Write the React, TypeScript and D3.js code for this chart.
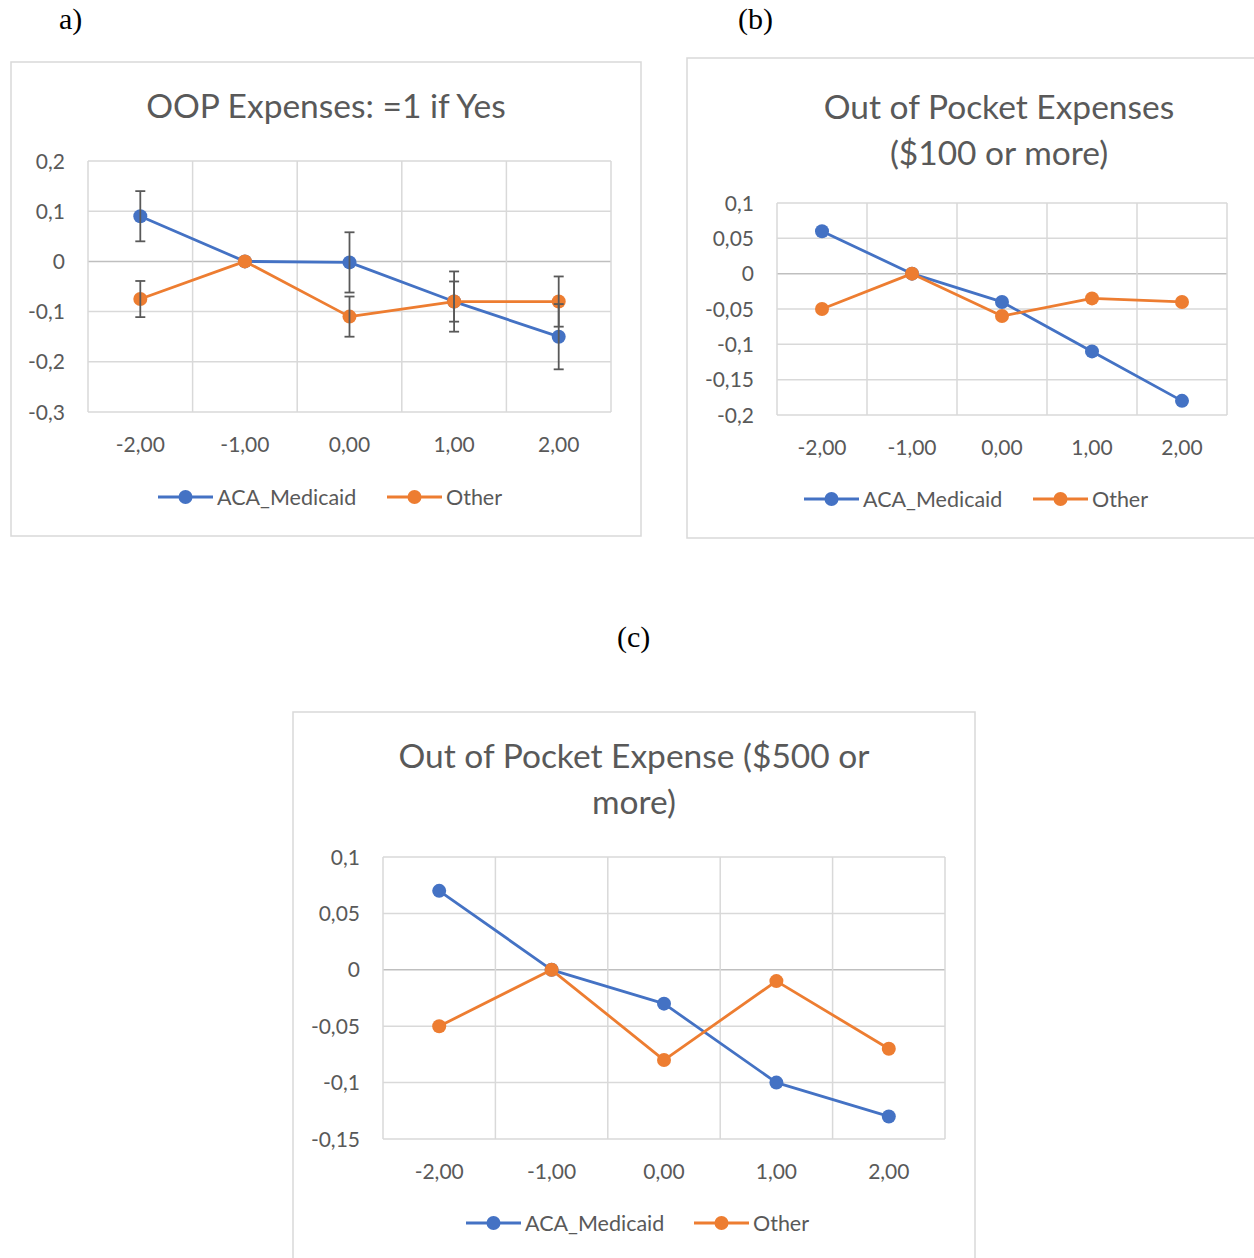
import React from "react";
import * as d3 from "d3";

const categories = ["-2,00", "-1,00", "0,00", "1,00", "2,00"];
const seriesNames = ["ACA_Medicaid", "Other"];

// Panel a
const aMedicaid = [0.09, 0, -0.002, -0.08, -0.15];
const aOther = [-0.075, 0, -0.11, -0.08, -0.08];
const aMedicaidErr = [0.05, 0, 0.06, 0.06, 0.065];
const aOtherErr = [0.036, 0, 0.04, 0.04, 0.05];
const aTicks = [0.2, 0.1, 0, -0.1, -0.2, -0.3];

// Panel b
const bMedicaid = [0.06, 0, -0.04, -0.11, -0.18];
const bOther = [-0.05, 0, -0.06, -0.035, -0.04];
const bTicks = [0.1, 0.05, 0, -0.05, -0.1, -0.15, -0.2];

// Panel c
const cMedicaid = [0.07, 0, -0.03, -0.1, -0.13];
const cOther = [-0.05, 0, -0.08, -0.01, -0.07];
const cTicks = [0.1, 0.05, 0, -0.05, -0.1, -0.15];

const BLUE = "#4472C4";
const ORANGE = "#ED7D31";
const TEXT = "#595959";
const GRID = "#D9D9D9";
const FONT = "Lato, 'Open Sans', sans-serif";
const SERIF = "'Liberation Serif', 'Times New Roman', serif";

const fmt = (v: number) => String(v).replace(".", ",");

type PanelProps = {
  box: [number, number, number, number];
  plot: [number, number, number, number];
  title: string[];
  titleX: number;
  titleY: number;
  ticks: number[];
  s1: number[];
  s2: number[];
  e1?: number[];
  e2?: number[];
  legendY: number;
  legendX1: number;
  legendX2: number;
};

function Panel(p: PanelProps) {
  const [x0, y0, x1, y1] = p.plot;
  const x = d3.scaleBand<string>().domain(categories).range([x0, x1]);
  const y = d3
    .scaleLinear()
    .domain([d3.min(p.ticks)!, d3.max(p.ticks)!])
    .range([y1, y0]);
  const cx = (c: string) => x(c)! + x.bandwidth() / 2;
  const line = d3
    .line<number>()
    .x((_, i) => cx(categories[i]))
    .y((d) => y(d));
  const edges = categories.map((c) => x(c)!).concat([x1]);
  const series = [
    { vals: p.s1, err: p.e1, color: BLUE },
    { vals: p.s2, err: p.e2, color: ORANGE },
  ];
  const [bx0, by0, bx1, by1] = p.box;
  return (
    <g>
      <rect x={bx0} y={by0} width={bx1 - bx0} height={by1 - by0} fill="#fff" stroke={GRID} strokeWidth={1.5} />
      {p.title.map((t, i) => (
        <text key={i} x={p.titleX} y={p.titleY - 2 + i * 46} textAnchor="middle" dominantBaseline="central" fontFamily={FONT} fontSize={33.5} fill={TEXT}>
          {t}
        </text>
      ))}
      {p.ticks.map((t) => (
        <g key={t}>
          <line x1={x0} x2={x1} y1={y(t)} y2={y(t)} stroke={t === 0 ? "#BFBFBF" : GRID} strokeWidth={1.5} />
          <text x={x0 - 23} y={y(t) - 1} textAnchor="end" dominantBaseline="central" fontFamily={FONT} fontSize={21} fill={TEXT}>
            {fmt(t)}
          </text>
        </g>
      ))}
      {edges.map((e, i) => (
        <line key={i} x1={e} x2={e} y1={y0} y2={y1} stroke={GRID} strokeWidth={1.5} />
      ))}
      {categories.map((c) => (
        <text key={c} x={cx(c)} y={y1 + 31} textAnchor="middle" dominantBaseline="central" fontFamily={FONT} fontSize={21} fill={TEXT}>
          {c}
        </text>
      ))}
      {series.map((s, si) => (
        <g key={si}>
          <path d={line(s.vals)!} fill="none" stroke={s.color} strokeWidth={2.8} strokeLinejoin="round" />
          {s.vals.map((v, i) => (
            <circle key={i} cx={cx(categories[i])} cy={y(v)} r={7} fill={s.color} />
          ))}
        </g>
      ))}
      {series.map((s, si) =>
        s.err ? (
          <g key={"e" + si}>
            {s.vals.map((v, i) => {
              const e = s.err![i];
              if (!e) return null;
              const xx = cx(categories[i]);
              const ya = y(v + e);
              const yb = y(v - e);
              return (
                <g key={i} stroke="#595959" strokeWidth={1.8}>
                  <line x1={xx} x2={xx} y1={ya} y2={yb} />
                  <line x1={xx - 5} x2={xx + 5} y1={ya} y2={ya} />
                  <line x1={xx - 5} x2={xx + 5} y1={yb} y2={yb} />
                </g>
              );
            })}
          </g>
        ) : null
      )}
      {[p.legendX1, p.legendX2].map((lx, i) => (
        <g key={i}>
          <line x1={lx} x2={lx + 55} y1={p.legendY} y2={p.legendY} stroke={series[i].color} strokeWidth={2.8} />
          <circle cx={lx + 27.5} cy={p.legendY} r={7} fill={series[i].color} />
          <text x={lx + 59} y={p.legendY} dominantBaseline="central" fontFamily={FONT} fontSize={21.5} fill={TEXT}>
            {seriesNames[i]}
          </text>
        </g>
      ))}
    </g>
  );
}

export default function App() {
  return (
    <svg width={1254} height={1258} style={{ position: "absolute", left: 0, top: 0, background: "#fff" }}>
      <rect width={1254} height={1258} fill="#fff" />
      <text x={59} y={18} dominantBaseline="central" fontFamily={SERIF} fontSize={30} fill="#000">a)</text>
      <text x={738} y={18} dominantBaseline="central" fontFamily={SERIF} fontSize={30} fill="#000">(b)</text>
      <text x={617} y={636} dominantBaseline="central" fontFamily={SERIF} fontSize={30} fill="#000">(c)</text>
      <Panel
        box={[11, 62, 641, 536]}
        plot={[88, 161, 611, 412]}
        title={["OOP Expenses: =1 if Yes"]}
        titleX={326}
        titleY={107}
        ticks={aTicks}
        s1={aMedicaid}
        s2={aOther}
        e1={aMedicaidErr}
        e2={aOtherErr}
        legendY={497}
        legendX1={158}
        legendX2={387}
      />
      <Panel
        box={[687, 58, 1262, 538]}
        plot={[777, 203, 1227, 415]}
        title={["Out of Pocket Expenses", "($100 or more)"]}
        titleX={999}
        titleY={108}
        ticks={bTicks}
        s1={bMedicaid}
        s2={bOther}
        legendY={499}
        legendX1={804}
        legendX2={1033}
      />
      <Panel
        box={[293, 712, 975, 1266]}
        plot={[383, 857, 945, 1139]}
        title={["Out of Pocket Expense ($500 or", "more)"]}
        titleX={634}
        titleY={757}
        ticks={cTicks}
        s1={cMedicaid}
        s2={cOther}
        legendY={1223}
        legendX1={466}
        legendX2={694}
      />
    </svg>
  );
}
